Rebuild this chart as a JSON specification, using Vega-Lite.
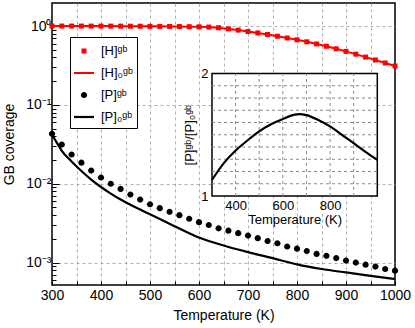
{
  "$schema": "https://vega.github.io/schema/vega-lite/v6.json",
  "width": 343,
  "height": 282,
  "autosize": {"type": "none"},
  "padding": {"left": 52, "top": 3, "right": 20, "bottom": 43},
  "background": "white",
  "config": {
    "font": "Liberation Sans",
    "view": {"stroke": "black", "strokeWidth": 1.5},
    "axis": {"domain": false, "labelColor": "black", "titleColor": "black", "tickColor": "black", "gridColor": "#9a9a9a", "gridDash": [3, 3], "gridWidth": 0.8, "labelFontSize": 14, "titleFontSize": 14, "titleFontWeight": "normal"}
  },
  "datasets": {
    "main": [
      {"T": 300, "series": "[H]ᵍᵇ", "c": 1.0}, {"T": 320, "series": "[H]ᵍᵇ", "c": 1.0}, {"T": 340, "series": "[H]ᵍᵇ", "c": 1.0}, {"T": 360, "series": "[H]ᵍᵇ", "c": 1.0},
      {"T": 380, "series": "[H]ᵍᵇ", "c": 0.999}, {"T": 400, "series": "[H]ᵍᵇ", "c": 0.999}, {"T": 420, "series": "[H]ᵍᵇ", "c": 0.998}, {"T": 440, "series": "[H]ᵍᵇ", "c": 0.997},
      {"T": 460, "series": "[H]ᵍᵇ", "c": 0.996}, {"T": 480, "series": "[H]ᵍᵇ", "c": 0.995}, {"T": 500, "series": "[H]ᵍᵇ", "c": 0.993}, {"T": 520, "series": "[H]ᵍᵇ", "c": 0.991},
      {"T": 540, "series": "[H]ᵍᵇ", "c": 0.989}, {"T": 560, "series": "[H]ᵍᵇ", "c": 0.986}, {"T": 580, "series": "[H]ᵍᵇ", "c": 0.982}, {"T": 600, "series": "[H]ᵍᵇ", "c": 0.977},
      {"T": 620, "series": "[H]ᵍᵇ", "c": 0.97}, {"T": 640, "series": "[H]ᵍᵇ", "c": 0.952}, {"T": 660, "series": "[H]ᵍᵇ", "c": 0.92}, {"T": 680, "series": "[H]ᵍᵇ", "c": 0.888},
      {"T": 700, "series": "[H]ᵍᵇ", "c": 0.852}, {"T": 720, "series": "[H]ᵍᵇ", "c": 0.818}, {"T": 740, "series": "[H]ᵍᵇ", "c": 0.782}, {"T": 760, "series": "[H]ᵍᵇ", "c": 0.743},
      {"T": 780, "series": "[H]ᵍᵇ", "c": 0.706}, {"T": 800, "series": "[H]ᵍᵇ", "c": 0.669}, {"T": 820, "series": "[H]ᵍᵇ", "c": 0.631}, {"T": 840, "series": "[H]ᵍᵇ", "c": 0.593},
      {"T": 860, "series": "[H]ᵍᵇ", "c": 0.554}, {"T": 880, "series": "[H]ᵍᵇ", "c": 0.515}, {"T": 900, "series": "[H]ᵍᵇ", "c": 0.477}, {"T": 920, "series": "[H]ᵍᵇ", "c": 0.44},
      {"T": 940, "series": "[H]ᵍᵇ", "c": 0.404}, {"T": 960, "series": "[H]ᵍᵇ", "c": 0.371}, {"T": 980, "series": "[H]ᵍᵇ", "c": 0.34}, {"T": 1000, "series": "[H]ᵍᵇ", "c": 0.311},
      {"T": 300, "series": "[P]ᵍᵇ", "c": 0.043}, {"T": 320, "series": "[P]ᵍᵇ", "c": 0.0314}, {"T": 340, "series": "[P]ᵍᵇ", "c": 0.0235}, {"T": 360, "series": "[P]ᵍᵇ", "c": 0.0185},
      {"T": 380, "series": "[P]ᵍᵇ", "c": 0.0147}, {"T": 400, "series": "[P]ᵍᵇ", "c": 0.012}, {"T": 420, "series": "[P]ᵍᵇ", "c": 0.01}, {"T": 440, "series": "[P]ᵍᵇ", "c": 0.0086},
      {"T": 460, "series": "[P]ᵍᵇ", "c": 0.0073}, {"T": 480, "series": "[P]ᵍᵇ", "c": 0.0063}, {"T": 500, "series": "[P]ᵍᵇ", "c": 0.0055}, {"T": 520, "series": "[P]ᵍᵇ", "c": 0.0049},
      {"T": 540, "series": "[P]ᵍᵇ", "c": 0.0044}, {"T": 560, "series": "[P]ᵍᵇ", "c": 0.004}, {"T": 580, "series": "[P]ᵍᵇ", "c": 0.0036}, {"T": 600, "series": "[P]ᵍᵇ", "c": 0.00326},
      {"T": 620, "series": "[P]ᵍᵇ", "c": 0.003}, {"T": 640, "series": "[P]ᵍᵇ", "c": 0.00272}, {"T": 660, "series": "[P]ᵍᵇ", "c": 0.00254}, {"T": 680, "series": "[P]ᵍᵇ", "c": 0.00236},
      {"T": 700, "series": "[P]ᵍᵇ", "c": 0.0022}, {"T": 720, "series": "[P]ᵍᵇ", "c": 0.00204}, {"T": 740, "series": "[P]ᵍᵇ", "c": 0.00188}, {"T": 760, "series": "[P]ᵍᵇ", "c": 0.00176},
      {"T": 780, "series": "[P]ᵍᵇ", "c": 0.0016}, {"T": 800, "series": "[P]ᵍᵇ", "c": 0.0015}, {"T": 820, "series": "[P]ᵍᵇ", "c": 0.0014}, {"T": 840, "series": "[P]ᵍᵇ", "c": 0.00129},
      {"T": 860, "series": "[P]ᵍᵇ", "c": 0.00122}, {"T": 880, "series": "[P]ᵍᵇ", "c": 0.00114}, {"T": 900, "series": "[P]ᵍᵇ", "c": 0.00106}, {"T": 920, "series": "[P]ᵍᵇ", "c": 0.001},
      {"T": 940, "series": "[P]ᵍᵇ", "c": 0.00094}, {"T": 960, "series": "[P]ᵍᵇ", "c": 0.00089}, {"T": 980, "series": "[P]ᵍᵇ", "c": 0.00083}, {"T": 1000, "series": "[P]ᵍᵇ", "c": 0.00079},
      {"T": 300, "series": "[P]₀ᵍᵇ", "c": 0.042}, {"T": 310, "series": "[P]₀ᵍᵇ", "c": 0.033}, {"T": 320, "series": "[P]₀ᵍᵇ", "c": 0.0262}, {"T": 340, "series": "[P]₀ᵍᵇ", "c": 0.0192},
      {"T": 360, "series": "[P]₀ᵍᵇ", "c": 0.0145}, {"T": 380, "series": "[P]₀ᵍᵇ", "c": 0.0113}, {"T": 400, "series": "[P]₀ᵍᵇ", "c": 0.0091}, {"T": 420, "series": "[P]₀ᵍᵇ", "c": 0.0075},
      {"T": 440, "series": "[P]₀ᵍᵇ", "c": 0.0063}, {"T": 460, "series": "[P]₀ᵍᵇ", "c": 0.0054}, {"T": 480, "series": "[P]₀ᵍᵇ", "c": 0.0047}, {"T": 500, "series": "[P]₀ᵍᵇ", "c": 0.0041},
      {"T": 550, "series": "[P]₀ᵍᵇ", "c": 0.0029}, {"T": 600, "series": "[P]₀ᵍᵇ", "c": 0.00208}, {"T": 650, "series": "[P]₀ᵍᵇ", "c": 0.00165}, {"T": 700, "series": "[P]₀ᵍᵇ", "c": 0.00136},
      {"T": 750, "series": "[P]₀ᵍᵇ", "c": 0.00114}, {"T": 800, "series": "[P]₀ᵍᵇ", "c": 0.00095}, {"T": 850, "series": "[P]₀ᵍᵇ", "c": 0.00083}, {"T": 900, "series": "[P]₀ᵍᵇ", "c": 0.00075},
      {"T": 950, "series": "[P]₀ᵍᵇ", "c": 0.00068}, {"T": 1000, "series": "[P]₀ᵍᵇ", "c": 0.00062}
    ],
    "inset": [
      {"T": 300, "r": 1.131}, {"T": 350, "r": 1.268}, {"T": 400, "r": 1.371}, {"T": 450, "r": 1.453}, {"T": 500, "r": 1.527},
      {"T": 550, "r": 1.585}, {"T": 600, "r": 1.628}, {"T": 650, "r": 1.664}, {"T": 670, "r": 1.669}, {"T": 700, "r": 1.66},
      {"T": 750, "r": 1.62}, {"T": 800, "r": 1.568}, {"T": 850, "r": 1.5}, {"T": 900, "r": 1.432}, {"T": 950, "r": 1.36}, {"T": 1000, "r": 1.295}
    ],
    "frame": [{"T": 300, "T2": 1000, "r": 1, "r2": 2}],
    "gridV": [{"T": 400, "r": 1, "r2": 2}, {"T": 500, "r": 1, "r2": 2}, {"T": 600, "r": 1, "r2": 2}, {"T": 700, "r": 1, "r2": 2}, {"T": 800, "r": 1, "r2": 2}, {"T": 900, "r": 1, "r2": 2}],
    "gridH": [{"r": 1.1, "T": 300, "T2": 1000}, {"r": 1.2, "T": 300, "T2": 1000}, {"r": 1.3, "T": 300, "T2": 1000}, {"r": 1.4, "T": 300, "T2": 1000}, {"r": 1.5, "T": 300, "T2": 1000}, {"r": 1.6, "T": 300, "T2": 1000}, {"r": 1.7, "T": 300, "T2": 1000}, {"r": 1.8, "T": 300, "T2": 1000}, {"r": 1.9, "T": 300, "T2": 1000}]
  },
  "layer": [
    {
      "data": {"name": "main"},
      "encoding": {
        "x": {
          "field": "T", "type": "quantitative",
          "scale": {"domain": [300, 1000], "nice": false, "zero": false},
          "axis": {
            "values": [300, 350, 400, 450, 500, 550, 600, 650, 700, 750, 800, 850, 900, 950, 1000],
            "format": "d",
            "labelExpr": "datum.value % 100 == 0 ? datum.label : ''",
            "grid": true,
            "gridOpacity": {"condition": {"test": "datum.value == 300 || datum.value == 1000", "value": 0}, "value": 1},
            "tickSize": -4, "labelPadding": 7, "labelFlush": false,
            "title": "Temperature (K)", "titlePadding": 6, "titleFontWeight": "normal"
          }
        },
        "y": {
          "field": "c", "type": "quantitative",
          "scale": {"type": "log", "domain": [0.00052, 1.96], "nice": false},
          "axis": {
            "values": [0.0006, 0.0007, 0.0008, 0.0009, 0.001, 0.002, 0.003, 0.004, 0.005, 0.006, 0.007, 0.008, 0.009, 0.01, 0.02, 0.03, 0.04, 0.05, 0.06, 0.07, 0.08, 0.09, 0.1, 0.2, 0.3, 0.4, 0.5, 0.6, 0.7, 0.8, 0.9, 1],
            "labelExpr": "datum.value == 1 ? '10⁰' : datum.value == 0.1 ? '10⁻¹' : datum.value == 0.01 ? '10⁻²' : datum.value == 0.001 ? '10⁻³' : ''",
            "grid": true,
            "gridOpacity": {"condition": {"test": "datum.value == 1 || datum.value == 0.1 || datum.value == 0.01 || datum.value == 0.001", "value": 1}, "value": 0},
            "tickSize": {"condition": {"test": "datum.value == 1 || datum.value == 0.1 || datum.value == 0.01 || datum.value == 0.001", "value": -7}, "value": -4},
            "labelPadding": 8, "labelFlush": false,
            "title": "GB coverage", "titlePadding": 9, "titleFontWeight": "normal"
          }
        }
      },
      "layer": [
        {"transform": [{"filter": "datum.series == '[H]ᵍᵇ'"}], "mark": {"type": "line", "color": "#ff0000", "strokeWidth": 2}, "encoding": {}},
        {"transform": [{"filter": "datum.series == '[P]₀ᵍᵇ'"}], "mark": {"type": "line", "color": "#000000", "strokeWidth": 2.2, "interpolate": "monotone"}, "encoding": {}},
        {
          "transform": [{"filter": "datum.series == '[H]ᵍᵇ' || datum.series == '[P]ᵍᵇ'"}],
          "mark": {"type": "point", "filled": true, "opacity": 1, "size": 400, "strokeWidth": 0},
          "encoding": {
            "color": {
              "field": "series", "type": "nominal",
              "scale": {"domain": ["[H]ᵍᵇ", "[H]₀ᵍᵇ", "[P]ᵍᵇ", "[P]₀ᵍᵇ"], "range": ["#ff0000", "#ff0000", "#000000", "#000000"]},
              "legend": {
                "title": null, "orient": "none", "legendX": 18, "legendY": 34,
                "strokeColor": "black", "fillColor": "white", "padding": 4,
                "labelFontSize": 13, "labelColor": "black", "rowPadding": 5, "labelOffset": 7,
                "symbolSize": 400, "symbolStrokeWidth": 0, "symbolOpacity": 1
              }
            },
            "shape": {
              "field": "series", "type": "nominal",
              "scale": {
                "domain": ["[H]ᵍᵇ", "[H]₀ᵍᵇ", "[P]ᵍᵇ", "[P]₀ᵍᵇ"],
                "range": [
                  "M-0.25,-0.25H0.25V0.25H-0.25Z",
                  "M-1,-0.1H1V0.1H-1Z",
                  "M-0.31,0A0.31,0.31 0 1,0 0.31,0A0.31,0.31 0 1,0 -0.31,0Z",
                  "M-1,-0.11H1V0.11H-1Z"
                ]
              }
            }
          }
        }
      ]
    },
    {
      "encoding": {
        "x": {
          "field": "T", "type": "quantitative",
          "scale": {"domain": [300, 1000], "range": [160, 325.3], "nice": false, "zero": false},
          "axis": {
            "orient": "bottom", "offset": -89,
            "values": [400, 600, 800], "format": "d",
            "ticks": false, "grid": false, "labelFlush": false,
            "labelFontSize": 13, "titleFontSize": 13, "labelPadding": 3, "titlePadding": 1,
            "title": "Temperature (K)", "titleFontWeight": "normal"
          }
        },
        "y": {
          "field": "r", "type": "quantitative",
          "scale": {"domain": [1, 2], "range": [193, 70.5], "nice": false, "zero": false},
          "axis": {
            "orient": "left", "offset": -160,
            "values": [1, 2], "format": "d",
            "ticks": false, "grid": false, "labelFlush": false,
            "labelFontSize": 13, "titleFontSize": 13, "labelPadding": 4, "titlePadding": 4,
            "title": "[P]ᵍᵇ/[P]₀ᵍᵇ", "titleFontWeight": "normal"
          }
        }
      },
      "layer": [
        {"data": {"name": "frame"}, "mark": {"type": "rect", "fill": "white", "stroke": "black", "strokeWidth": 1.5}, "encoding": {"x2": {"field": "T2"}, "y2": {"field": "r2"}}},
        {"data": {"name": "gridV"}, "mark": {"type": "rule", "stroke": "#8a8a8a", "strokeDash": [3, 3], "strokeWidth": 1}, "encoding": {"y2": {"field": "r2"}}},
        {"data": {"name": "gridH"}, "mark": {"type": "rule", "stroke": "#8a8a8a", "strokeDash": [3, 3], "strokeWidth": 1}, "encoding": {"x2": {"field": "T2"}}},
        {"data": {"name": "inset"}, "mark": {"type": "line", "color": "#000000", "strokeWidth": 2.2, "interpolate": "monotone"}, "encoding": {}}
      ]
    }
  ],
  "resolve": {"scale": {"x": "independent", "y": "independent"}}
}
